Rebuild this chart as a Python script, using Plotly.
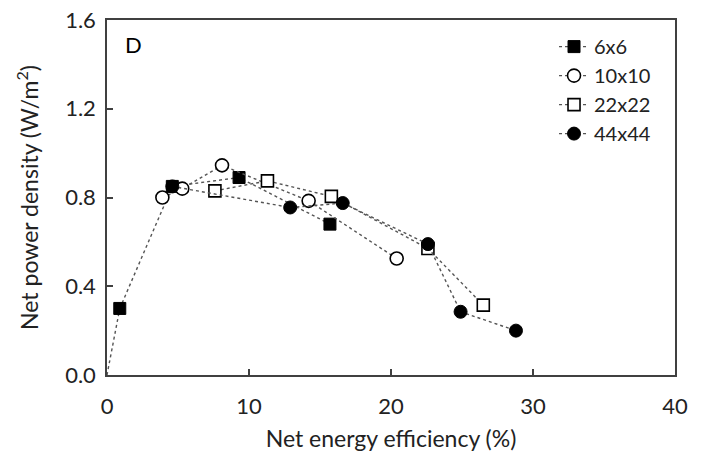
import plotly.graph_objects as go

# Data
x_6 = [0.0, 0.9, 4.6, 9.3, 15.7]
y_6 = [0.0, 0.30, 0.85, 0.89, 0.68]

x_10 = [3.9, 5.3, 8.1, 14.2, 20.4]
y_10 = [0.80, 0.84, 0.945, 0.785, 0.525]

x_22 = [7.6, 11.3, 15.8, 22.6, 26.5]
y_22 = [0.83, 0.875, 0.805, 0.57, 0.315]

x_44 = [4.6, 12.9, 16.6, 22.6, 24.9, 28.8]
y_44 = [0.85, 0.755, 0.775, 0.59, 0.285, 0.20]

x_ticks = [0, 10, 20, 30, 40]
y_ticks = [0.0, 0.4, 0.8, 1.2, 1.6]
x_range = [0, 40]
y_range = [0, 1.6]

FONT = "Lato"
TXT = "#222222"
AX = "#404040"
LINE = dict(color="#555555", width=1.4, dash="dot")
MS = 12

fig = go.Figure()

# origin segment of 6x6 (no marker at the origin)
fig.add_trace(go.Scatter(x=x_6[:2], y=y_6[:2], mode="lines", line=LINE,
                         showlegend=False, hoverinfo="skip"))
fig.add_trace(go.Scatter(x=x_6[1:], y=y_6[1:], mode="lines+markers", name="6x6",
                         line=LINE,
                         marker=dict(symbol="square", size=MS, color="black",
                                     line=dict(color="black", width=1))))
fig.add_trace(go.Scatter(x=x_10, y=y_10, mode="lines+markers", name="10x10",
                         line=LINE,
                         marker=dict(symbol="circle", size=MS + 1, color="white",
                                     line=dict(color="black", width=1.6))))
fig.add_trace(go.Scatter(x=x_22, y=y_22, mode="lines+markers", name="22x22",
                         line=LINE,
                         marker=dict(symbol="square", size=MS, color="white",
                                     line=dict(color="black", width=1.6))))
fig.add_trace(go.Scatter(x=x_44, y=y_44, mode="lines+markers", name="44x44",
                         line=LINE,
                         marker=dict(symbol="circle", size=MS + 1, color="black",
                                     line=dict(color="black", width=1))))

axis_common = dict(showline=True, linecolor=AX, linewidth=1.5, mirror=True,
                   ticks="inside", ticklen=6, tickwidth=1.5, tickcolor=AX,
                   showgrid=False, zeroline=False, automargin=False,
                   ticklabeloverflow="allow",
                   tickfont=dict(family=FONT, size=22, color=TXT))

fig.update_xaxes(range=x_range, tickvals=x_ticks, ticktext=[str(v) for v in x_ticks],
                 title=dict(text="Net energy efficiency (%)", standoff=13,
                            font=dict(family=FONT, size=23, color=TXT)),
                 ticklabelstandoff=11, **axis_common)
fig.update_yaxes(range=y_range, tickvals=y_ticks, ticktext=[f"{v:.1f}" for v in y_ticks],
                 title=dict(text="Net power density (W/m<sup>2</sup>)", standoff=20,
                            font=dict(family=FONT, size=23, color=TXT)),
                 ticklabelstandoff=5, **axis_common)

# top and right frame edges as overlaying axes
fig.update_layout(
    xaxis2=dict(overlaying="x", side="top", anchor="y", range=x_range,
                showline=True, linecolor=AX, linewidth=1.5, ticks="",
                showticklabels=False, showgrid=False, zeroline=False,
                automargin=False),
    yaxis2=dict(overlaying="y", side="right", anchor="x", range=y_range,
                showline=True, linecolor=AX, linewidth=1.5, ticks="",
                showticklabels=False, showgrid=False, zeroline=False,
                automargin=False),
)

fig.add_annotation(x=0.0285, y=0.975, xref="paper", yref="paper", text="D",
                   showarrow=False, xanchor="left", yanchor="top",
                   font=dict(family=FONT, size=22, color="black"))

# the page body adds an 8 px offset; margins are reduced by 8 px to compensate
fig.update_layout(
    width=723, height=452,
    margin=dict(l=99, r=56, t=12, b=85),
    plot_bgcolor="white", paper_bgcolor="white",
    font=dict(family=FONT, size=20, color=TXT),
    legend=dict(x=0.787, y=0.98, xanchor="left", yanchor="top",
                bgcolor="rgba(0,0,0,0)", tracegroupgap=0,
                font=dict(family=FONT, size=20, color=TXT), itemwidth=30),
)

fig.write_html("out.html")
